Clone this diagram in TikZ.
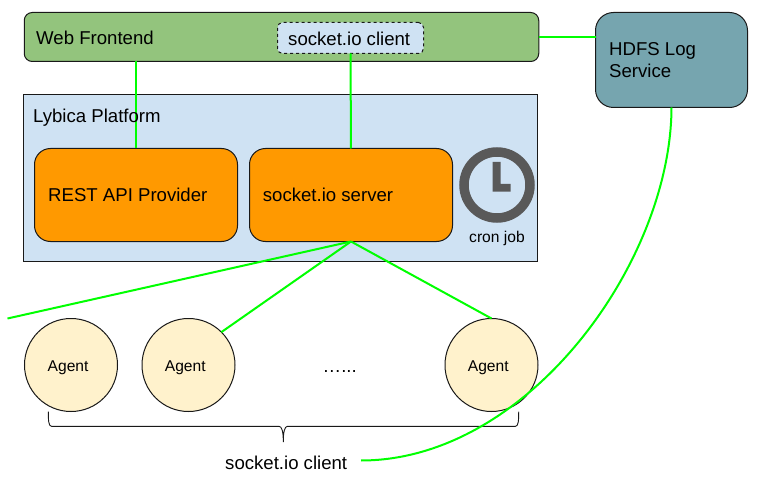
\documentclass[tikz,border=0pt]{standalone}
\usepackage{fontspec}
\setmainfont{Liberation Sans}
\tikzset{
  x=1pt, y=-1pt,
  shapebox/.style={draw=black!90, line width=1pt, inner sep=0pt, outer sep=0pt, anchor=center},
  panel/.style={shapebox, rectangle, rounded corners=#1},
  agent/.style={shapebox, circle, fill=agentfill, minimum size=93pt},
  link/.style={draw=linkgreen, line width=2pt},
  biglabel/.style={anchor=base west, inner sep=0pt, font=\fontsize{18.6}{22}\selectfont},
  smalllabel/.style={anchor=base west, inner sep=0pt, font=\fontsize{15.6}{18}\selectfont},
}
\definecolor{webfill}{HTML}{93C47D}
\definecolor{platformfill}{HTML}{CFE2F3}
\definecolor{servicefill}{HTML}{FF9900}
\definecolor{hdfsfill}{HTML}{76A5AF}
\definecolor{agentfill}{HTML}{FFF2CC}
\definecolor{linkgreen}{HTML}{00FF00}
\definecolor{clockgrey}{HTML}{595959}
\begin{document}
\begin{tikzpicture}
\useasboundingbox (0,0) rectangle (761,484);

% Frontend bar with its embedded client
\node[panel=8pt, fill=webfill, minimum width=514.5pt, minimum height=49pt] (web) at (281.5,37) {};
\node[panel=5pt, fill=platformfill, dashed, minimum width=146pt, minimum height=31pt] (client) at (350.5,38) {};

% Platform container and services
\node[panel=0pt, fill=platformfill, minimum width=514pt, minimum height=167pt] (platform) at (280.5,178) {};
\node[panel=16pt, fill=servicefill, minimum width=203pt, minimum height=93pt] (rest) at (136,195) {};
\node[panel=16pt, fill=servicefill, minimum width=203pt, minimum height=93pt] (server) at (351,195) {};

% Log service
\node[panel=18pt, fill=hdfsfill, minimum width=152pt, minimum height=95pt] (hdfs) at (671.5,60) {};

% Clock icon
\node[circle, draw=clockgrey, line width=9.5pt, minimum size=66pt, inner sep=0pt, outer sep=0pt] (clock) at (497,185) {};
\fill[clockgrey] (492.7,162) -- (500.7,162) -- (500.7,184) -- (510.7,184) -- (510.7,191.7) -- (492.7,191.7) -- cycle;

% Agents
\node[agent] (a1) at (71,365) {};
\node[agent] (a2) at (188.5,365) {};
\node[agent] (a3) at (491.5,365) {};

% Brace under the agents
\coordinate (braceleft) at (48.3,411.7);
\coordinate (braceright) at (518.7,411.7);
\coordinate (bracetip) at (283.3,442);
\draw[black!90, line width=0.9pt]
  (braceleft) .. controls (48.3,420) and (48.5,426.3) .. (51.5,426.3)
  -- (279,426.3) .. controls (282,426.3) and (283.3,432) .. (bracetip)
  .. controls (283.3,432) and (284.6,426.3) .. (287.5,426.3)
  -- (515.5,426.3) .. controls (518.5,426.3) and (518.7,420) .. (braceright);

% Connectors
\coordinate (offpage) at (7.5,318.5);
\coordinate (logclient) at (361,460.5);
\draw[link] (web.south -| rest.north) -- (rest.north);
\draw[link] (client.south) -- (server.north);
\draw[link] (web.east) -- (hdfs.west |- web.east);
\draw[link] (server.south) -- (offpage);
\draw[link] (server.south) -- (a2.45);
\draw[link] (server.south) -- (a3.north);
\draw[link] (hdfs.south) .. controls (671,262) and (528,460.5) .. (logclient);

% Labels
\node[biglabel] (webtext) at (36,44.7) {Web Frontend};
\node[biglabel] (clienttext) at (288,45.5) {socket.io client};
\node[biglabel] (platformtext) at (33,122.2) {Lybica Platform};
\node[biglabel] (resttext) at (48,202) {REST API Provider};
\node[biglabel] (servertext) at (262.7,202) {socket.io server};
\node[biglabel] (hdfstext1) at (609,56) {HDFS Log};
\node[biglabel] (hdfstext2) at (609,78) {Service};
\node[smalllabel] (cronlabel) at (469,242.5) {cron job};
\node[smalllabel] (a1text) at (47.5,371) {Agent};
\node[smalllabel] (a2text) at (164.7,371) {Agent};
\node[smalllabel] (a3text) at (467.7,371) {Agent};
\node[biglabel] (dots) at (322.5,372) {….{}.{}.};
\node[biglabel] (groupname) at (225,469.8) {socket.io client};
\end{tikzpicture}
\end{document}
